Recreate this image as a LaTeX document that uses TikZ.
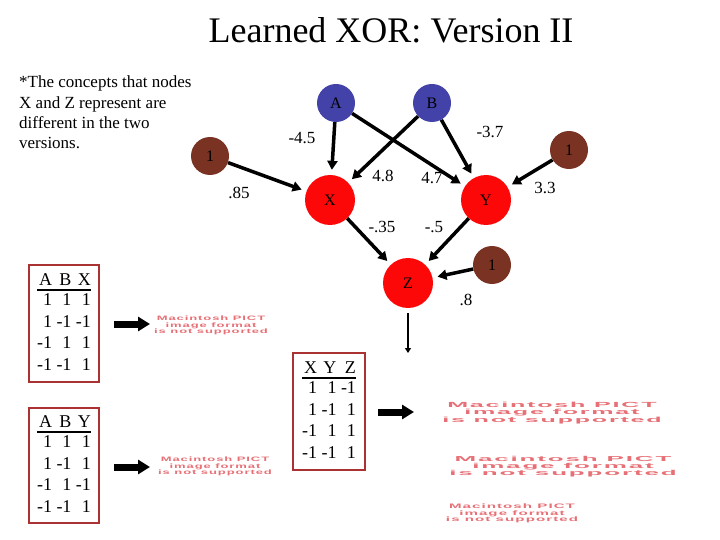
\documentclass[tikz,border=0pt]{standalone}
\usepackage{fontspec}
\usepackage{graphicx}
\setmainfont{Liberation Serif}
\newfontfamily\pictfont[LetterSpace=7]{Liberation Sans}
\usetikzlibrary{arrows.meta}
\definecolor{nodeblue}{RGB}{66,66,168}
\definecolor{nodebrown}{RGB}{122,50,34}
\definecolor{nodered}{RGB}{252,8,8}
\definecolor{boxred}{RGB}{170,50,50}
\definecolor{pictred}{RGB}{230,112,118}
\newcommand\pictph[2]{\scalebox{#1}[#2]{\begin{tabular}{@{}c@{}}Macintosh PICT\\image format\\is not supported\end{tabular}}}
\newcommand\truthtab[3]{\setlength\arrayrulewidth{1.5bp}\begin{tabular}{@{}r@{\hspace{4.5bp}}r@{\hspace{4.5bp}}r@{}}#1\\[-3bp]\hline #2\\#3\end{tabular}}
\tikzset{
  unit/.style={circle, inner sep=0pt, font=\fontsize{16bp}{19bp}\selectfont},
  small/.style={unit, minimum size=38bp},
  big/.style={unit, minimum size=50bp, fill=nodered},
  inp/.style={small, fill=nodeblue},
  bias/.style={small, fill=nodebrown},
  wt/.style={inner sep=0pt, font=\fontsize{17bp}{20bp}\selectfont},
  edge/.style={line width=3.5bp, -{Triangle[length=9bp,width=10bp]}, shorten >=5bp},
  thinarrow/.style={line width=2bp, -{Triangle[length=5bp,width=6bp]}},
  blockarrow/.style={line width=7bp, -{Triangle[length=12bp,width=14bp]}},
  tabbox/.style={draw=boxred, line width=1.5bp, inner sep=0pt, minimum width=70bp, minimum height=117bp, font=\fontsize{18bp}{21.5bp}\selectfont},
  pict/.style={inner sep=0pt, text=pictred, font=\pictfont\bfseries\fontsize{10bp}{9.5bp}\selectfont}
}
\begin{document}
\begin{tikzpicture}[x=1bp,y=-1bp]
\useasboundingbox (0,0) rectangle (720,540);
\node[anchor=base, font=\fontsize{36bp}{40bp}\selectfont] (title) at (391,43) {Learned XOR: Version II};
\node[anchor=north west, align=left, inner sep=0pt, font=\fontsize{17bp}{20.3bp}\selectfont] (note) at (19,76) {*The concepts that nodes\\X and Z represent are\\different in the two\\versions.};
% network
\node[inp] (A) at (336,103) {A};
\node[inp] (B) at (432,103) {B};
\node[bias] (b1) at (210,156) {1};
\node[bias] (b2) at (569,150) {1};
\node[bias] (b3) at (492,265) {1};
\node[big] (X) at (330,200) {X};
\node[big] (Y) at (486,200) {Y};
\node[big] (Z) at (408,283) {Z};
\draw[edge] (A) -- (X);
\draw[edge] (A) -- (Y);
\draw[edge] (B) -- (X);
\draw[edge] (B) -- (Y);
\draw[edge] (b1) -- (X);
\draw[edge] (b2) -- (Y);
\draw[edge] (X) -- (Z);
\draw[edge] (Y) -- (Z);
\draw[edge] (b3) -- (Z);
\node[wt] (wAX) at (302,138) {-4.5};
\node[wt] (wBY) at (490,132) {-3.7};
\node[wt] (wBX) at (383,176) {4.8};
\node[wt] (wAY) at (432,178) {4.7};
\node[wt] (w1X) at (239,193) {.85};
\node[wt] (w2Y) at (545,188) {3.3};
\node[wt] (wXZ) at (382,227) {-.35};
\node[wt] (wYZ) at (434,227) {-.5};
\node[wt] (w3Z) at (466,300) {.8};
\coordinate (zend) at (408,353);
\draw[thinarrow, shorten <=5bp] (Z) -- (zend);
% truth tables
\node[tabbox] (tX) at (64,323.5) {\truthtab{A & B & X}{1 & 1 & 1\\1 & -1 & -1}{-1 & 1 & 1\\-1 & -1 & 1}};
\node[tabbox, minimum height=115bp] (tY) at (64,465.5) {\truthtab{A & B & Y}{1 & 1 & 1\\1 & -1 & 1}{-1 & 1 & -1\\-1 & -1 & 1}};
\node[tabbox, minimum width=72bp] (tZ) at (329,411.5) {\truthtab{X & Y & Z}{1 & 1 & -1\\1 & -1 & 1}{-1 & 1 & 1\\-1 & -1 & 1}};
% placeholders
\node[pict] (p1) at (211,326) {\pictph{1.30}{0.64}};
\node[pict] (p2) at (215,467) {\pictph{1.30}{0.64}};
\node[pict] (p3) at (552,413) {\pictph{2.51}{0.74}};
\node[pict] (p4) at (563,467) {\pictph{2.6}{0.72}};
\node[pict] (p5) at (512,514) {\pictph{1.51}{0.65}};
% block arrows
\coordinate (a1s) at (114,324); \coordinate (a1e) at (150,324);
\coordinate (a2s) at (114,467); \coordinate (a2e) at (150,467);
\coordinate (a3s) at (378,412); \coordinate (a3e) at (414,412);
\draw[blockarrow] (a1s) -- (a1e);
\draw[blockarrow] (a2s) -- (a2e);
\draw[blockarrow] (a3s) -- (a3e);
\end{tikzpicture}
\end{document}
